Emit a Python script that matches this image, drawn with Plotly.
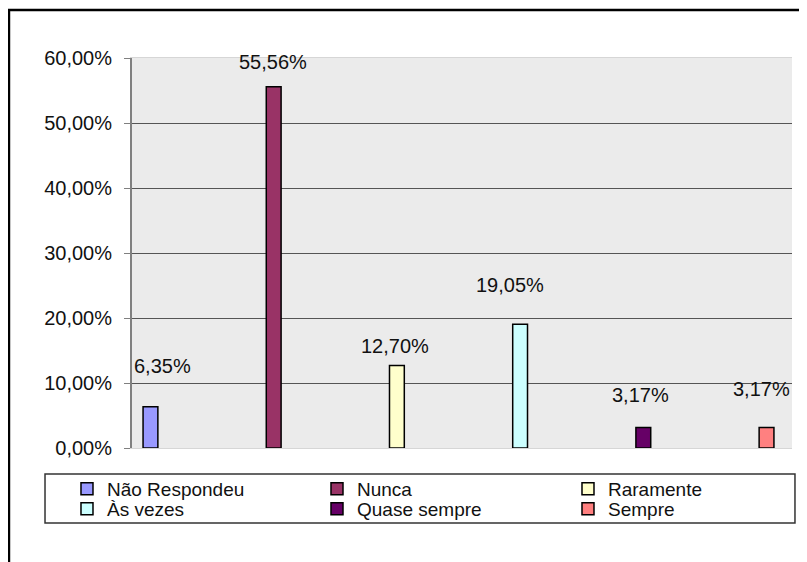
import plotly.graph_objects as go

categorias = ['Não Respondeu', 'Nunca', 'Raramente', 'Às vezes', 'Quase sempre', 'Sempre']
valores = [0.0635, 0.5556, 0.1270, 0.1905, 0.0317, 0.0317]
rotulos = ['6,35%', '55,56%', '12,70%', '19,05%', '3,17%', '3,17%']
cores = ['#9999FF', '#993366', '#FFFFCC', '#CCFFFF', '#660066', '#FF8080']
eixo_y_vals = [0, 0.1, 0.2, 0.3, 0.4, 0.5, 0.6]
eixo_y_txt = ['0,00%', '10,00%', '20,00%', '30,00%', '40,00%', '50,00%', '60,00%']

FONTE = 'Arial, Liberation Sans, sans-serif'

fig = go.Figure()
for i, nome in enumerate(categorias):
    # cada serie so tem valor na sua propria categoria (estilo Excel)
    y = [None] * len(categorias)
    y[i] = valores[i]
    fig.add_trace(go.Bar(
        x=categorias, y=y, name=nome,
        marker=dict(color=cores[i], line=dict(color='black', width=1.5)),
        legend='legend' if i == 0 else 'legend%d' % (i + 1),
        hoverinfo='skip'
    ))

# deslocamentos dos rotulos (posicionados a mao no original)
desl_x = [-25, -23, -9, -3, 19, 32]
desl_y = [41, 25, 19, 39, 32, 38]
for i in range(len(categorias)):
    fig.add_annotation(
        x=categorias[i], y=valores[i], text=rotulos[i], showarrow=False,
        xref='x', yref='y', xshift=desl_x[i], yshift=desl_y[i],
        yanchor='middle', font=dict(family=FONTE, size=20, color='#111')
    )

# uma legenda por item, em grade 3x2 como no Excel
col_x = [-0.0985, 0.2803, 0.6606]
lin_y = [-0.1051, -0.1564]
legendas = {}
for i in range(len(categorias)):
    chave = 'legend' if i == 0 else 'legend%d' % (i + 1)
    legendas[chave] = dict(
        orientation='h', x=col_x[i % 3], xanchor='left',
        y=lin_y[i // 3], yanchor='middle',
        bgcolor='rgba(0,0,0,0)', borderwidth=0,
        font=dict(family=FONTE, size=19, color='#111'),
        itemclick=False)

# a pagina tem margem de 8px no body, por isso a figura e 8px menor
fig.update_layout(
    width=799, height=554,
    margin=dict(l=124, r=15, t=50, b=114),
    paper_bgcolor='white',
    plot_bgcolor='#EBEBEB',
    barmode='group', bargap=0.18, bargroupgap=0,
    font=dict(family=FONTE, size=20, color='#111'),
    showlegend=True,
    shapes=[
        dict(type='rect', xref='paper', yref='paper',
             x0=-0.1864, x1=1.2, y0=-0.6, y1=1.123,
             line=dict(color='black', width=2.5), layer='below'),
        dict(type='rect', xref='paper', yref='paper',
             x0=-0.1318, x1=1.0045, y0=-0.1923, y1=-0.0667,
             line=dict(color='#333333', width=1.5), fillcolor='white', layer='below'),
    ],
    **legendas
)
fig.update_xaxes(showticklabels=False, ticks='', showgrid=False,
                 showline=True, linecolor='#D6D6D6', linewidth=1, mirror=True)
fig.update_yaxes(range=[0, 0.6], tickvals=eixo_y_vals, ticktext=eixo_y_txt,
                 ticks='outside', ticklen=6, tickcolor='#808080', tickwidth=1,
                 ticklabelstandoff=8,
                 showline=True, linecolor='#808080', linewidth=2,
                 showgrid=False, zeroline=False,
                 minor=dict(tickvals=[0.1, 0.2, 0.3, 0.4, 0.5], showgrid=True,
                            gridcolor='#555555', gridwidth=1, ticks=''))

fig.write_html('out.html')
